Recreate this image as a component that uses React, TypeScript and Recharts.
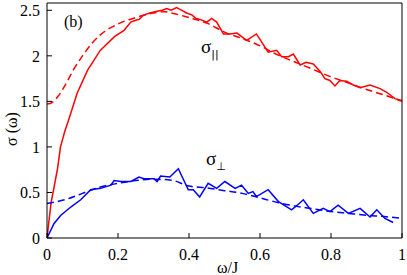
import React from 'react';
import { LineChart, Line, XAxis, YAxis } from 'recharts';

// sigma_parallel, noisy numerical curve [omega/J, sigma]
const parSolid: [number, number][] = [
  [0, 0], [0.005, 0.17], [0.012, 0.4], [0.02, 0.56], [0.03, 0.77], [0.038, 1.0],
  [0.05, 1.17], [0.062, 1.31], [0.085, 1.59], [0.114, 1.84], [0.15, 2.06], [0.19, 2.21], [0.217, 2.28],
  [0.236, 2.37], [0.25, 2.39], [0.26, 2.4], [0.273, 2.45], [0.29, 2.47], [0.31, 2.49],
  [0.325, 2.5], [0.337, 2.52], [0.35, 2.5], [0.365, 2.53], [0.38, 2.5], [0.393, 2.47],
  [0.408, 2.45], [0.42, 2.41], [0.431, 2.4], [0.45, 2.37], [0.464, 2.41], [0.478, 2.37],
  [0.497, 2.24], [0.515, 2.24], [0.535, 2.25], [0.5625, 2.17], [0.59, 2.24], [0.623, 2.04],
  [0.647, 2.06], [0.661, 1.99], [0.68, 1.99], [0.694, 2.02], [0.713, 1.9], [0.73, 1.93],
  [0.75, 1.91], [0.769, 1.83], [0.783, 1.75], [0.797, 1.73], [0.811, 1.67], [0.825, 1.73],
  [0.844, 1.72], [0.863, 1.68], [0.882, 1.65], [0.91, 1.68], [0.938, 1.64], [0.957, 1.6],
  [0.98, 1.53], [1, 1.51],
];

// sigma_parallel, smooth fit
const parDashed: [number, number][] = [
  [0, 1.47], [0.015, 1.49], [0.03, 1.55], [0.05, 1.67], [0.075, 1.85], [0.1, 2.0], [0.125, 2.13],
  [0.15, 2.23], [0.2, 2.35], [0.25, 2.42], [0.3, 2.47], [0.33, 2.485], [0.35, 2.47],
  [0.4, 2.42], [0.45, 2.36], [0.5, 2.26], [0.55, 2.19], [0.6, 2.11], [0.65, 2.01],
  [0.7, 1.93], [0.75, 1.85], [0.8, 1.77], [0.85, 1.7], [0.9, 1.63], [0.95, 1.57], [1, 1.5],
];

// sigma_perp, noisy numerical curve
const perpSolid: [number, number][] = [
  [0, 0], [0.02, 0.16], [0.039, 0.25], [0.067, 0.34], [0.095, 0.42], [0.123, 0.53],
  [0.151, 0.545], [0.18, 0.58], [0.189, 0.63], [0.208, 0.62], [0.236, 0.62], [0.259, 0.67],
  [0.273, 0.65], [0.301, 0.65], [0.31, 0.62], [0.32, 0.68], [0.346, 0.67], [0.37, 0.76],
  [0.398, 0.53], [0.412, 0.53], [0.43, 0.45], [0.454, 0.6], [0.478, 0.545], [0.501, 0.62],
  [0.53, 0.545], [0.548, 0.58], [0.567, 0.49], [0.58, 0.51], [0.59, 0.455], [0.623, 0.53],
  [0.652, 0.4], [0.689, 0.31], [0.705, 0.36], [0.722, 0.42], [0.75, 0.27], [0.778, 0.325],
  [0.797, 0.29], [0.82, 0.36], [0.849, 0.27], [0.882, 0.325], [0.91, 0.23], [0.929, 0.31],
  [0.952, 0.215], [0.975, 0.17],
];

// sigma_perp, smooth fit
const perpDashed: [number, number][] = [
  [0, 0.38], [0.05, 0.42], [0.1, 0.49], [0.15, 0.56], [0.2, 0.6], [0.25, 0.63],
  [0.3, 0.645], [0.35, 0.635], [0.4, 0.57], [0.45, 0.55], [0.5, 0.52], [0.55, 0.49],
  [0.6, 0.44], [0.65, 0.39], [0.7, 0.35], [0.75, 0.32], [0.8, 0.29], [0.85, 0.27],
  [0.9, 0.25], [0.95, 0.235], [1, 0.215],
];

const xTicks = [0, 0.2, 0.4, 0.6, 0.8, 1];
const yTicks = [0, 0.5, 1, 1.5, 2, 2.5];

const toRows = (pts: [number, number][]) => pts.map(([x, y]) => ({ x, y }));

const font = 'Liberation Serif, Tinos, DejaVu Serif, serif';
const tickStyle = { fontSize: 16, fill: '#000', fontFamily: font };
const fmt = (v: number) => `${v}`;
const blank = () => '';

export default function App() {
  return (
    <div style={{ position: 'absolute', left: 0, top: 0, width: 407, height: 275, background: '#fff', fontFamily: font }}>
      <LineChart width={407} height={275} margin={{ top: 0, right: 0, bottom: 0, left: 0 }} style={{ fontFamily: font }}>
        <XAxis
          type="number"
          dataKey="x"
          domain={[0, 1]}
          ticks={xTicks}
          tickFormatter={fmt}
          tick={tickStyle}
          tickSize={-5}
          tickMargin={16}
          height={37}
          stroke="#000"
          allowDataOverflow
        />
        <XAxis
          xAxisId="top"
          orientation="top"
          type="number"
          dataKey="x"
          domain={[0, 1]}
          ticks={xTicks}
          tickFormatter={blank}
          tickSize={-5}
          height={3}
          stroke="#000"
        />
        <YAxis
          type="number"
          domain={[0, 2.58]}
          ticks={yTicks}
          tickFormatter={fmt}
          tick={tickStyle}
          tickSize={-5}
          tickMargin={12}
          width={47}
          stroke="#000"
          allowDataOverflow
        />
        <YAxis
          yAxisId="right"
          orientation="right"
          type="number"
          domain={[0, 2.58]}
          ticks={yTicks}
          tickFormatter={blank}
          tickSize={-5}
          width={5}
          stroke="#000"
        />
        <Line data={toRows(parDashed)} dataKey="y" type="monotone" stroke="#ff0000" strokeWidth={1.5} strokeDasharray="7 4" dot={false} isAnimationActive={false} />
        <Line data={toRows(parSolid)} dataKey="y" type="linear" stroke="#ff0000" strokeWidth={1.5} dot={false} isAnimationActive={false} />
        <Line data={toRows(perpDashed)} dataKey="y" type="monotone" stroke="#0000ff" strokeWidth={1.5} strokeDasharray="7 4" dot={false} isAnimationActive={false} />
        <Line data={toRows(perpSolid)} dataKey="y" type="linear" stroke="#0000ff" strokeWidth={1.5} dot={false} isAnimationActive={false} />
      </LineChart>

      <div style={{ position: 'absolute', left: 64, top: 13, fontSize: 16 }}>(b)</div>
      <div style={{ position: 'absolute', left: 201, top: 36, fontSize: 19 }}>
        σ<sub style={{ fontSize: 11, fontFamily: 'DejaVu Sans, sans-serif' }}>||</sub>
      </div>
      <div style={{ position: 'absolute', left: 206, top: 148, fontSize: 19 }}>
        σ<sub style={{ fontSize: 11, fontFamily: 'DejaVu Sans, sans-serif' }}>⊥</sub>
      </div>
      <div style={{ position: 'absolute', left: 217, top: 259, fontSize: 16 }}>ω/J</div>
      <div
        style={{
          position: 'absolute',
          left: 12,
          top: 129,
          fontSize: 16,
          whiteSpace: 'nowrap',
          transform: 'translate(-50%, -50%) rotate(-90deg)',
        }}
      >
        σ (ω)
      </div>
    </div>
  );
}
